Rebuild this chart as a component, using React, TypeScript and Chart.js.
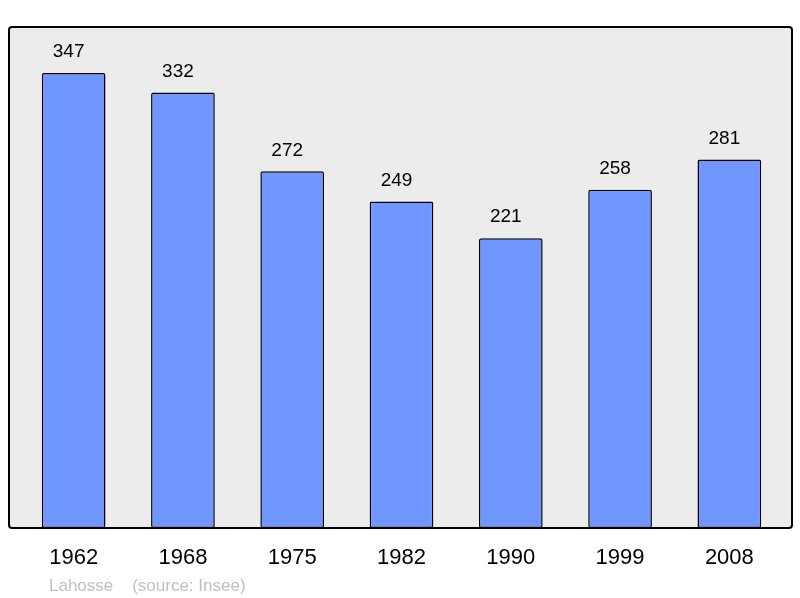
import React, { useEffect, useRef } from "react";
import { Chart, registerables } from "chart.js";

Chart.register(...registerables);

const years = ["1962", "1968", "1975", "1982", "1990", "1999", "2008"];
const population = [347, 332, 272, 249, 221, 258, 281];
const yMax = 382;
const footer = "Lahosse    (source: Insee)";

const framePlugin = {
  id: "frame",
  beforeDatasetsDraw(chart: any) {
    const { ctx, chartArea } = chart;
    const l = chartArea.left - 10, r = chartArea.right + 8;
    const t = chartArea.top, b = chartArea.bottom;
    ctx.save();
    ctx.beginPath();
    ctx.roundRect(l, t, r - l, b - t, 3);
    ctx.fillStyle = "#ececec";
    ctx.fill();
    ctx.restore();
  },
  afterDatasetsDraw(chart: any) {
    const { ctx, chartArea } = chart;
    const l = chartArea.left - 10, r = chartArea.right + 8;
    const t = chartArea.top, b = chartArea.bottom;
    ctx.save();
    ctx.beginPath();
    ctx.roundRect(l, t, r - l, b - t, 3);
    ctx.lineWidth = 2;
    ctx.strokeStyle = "#000";
    ctx.stroke();
    // value labels
    const meta = chart.getDatasetMeta(0);
    ctx.fillStyle = "#000";
    ctx.font = "19px 'Liberation Sans', Arial, sans-serif";
    ctx.textAlign = "center";
    ctx.textBaseline = "middle";
    meta.data.forEach((bar: any, i: number) => {
      ctx.fillText(String(population[i]), bar.x - 5, bar.y - 21);
    });
    // footer
    ctx.fillStyle = "#c0c0c0";
    ctx.font = "17px 'Liberation Sans', Arial, sans-serif";
    ctx.textAlign = "left";
    ctx.textBaseline = "middle";
    ctx.fillText(footer, chartArea.left + 30, chart.height - 12);
    ctx.restore();
  },
};

export default function App() {
  const ref = useRef<HTMLCanvasElement>(null);
  useEffect(() => {
    document.body.style.margin = "0";
    const chart = new Chart(ref.current!, {
      type: "bar",
      data: {
        labels: years,
        datasets: [
          {
            data: population,
            backgroundColor: "rgb(112,150,255)",
            borderColor: "#000",
            borderWidth: 1.5,
            borderRadius: 2,
            borderSkipped: false,
            categoryPercentage: 1,
            barPercentage: 0.583,
          },
        ],
      },
      options: {
        animation: false,
        responsive: false,
        layout: { padding: { left: 19, right: 16, top: 27, bottom: 29 } },
        plugins: { legend: { display: false }, tooltip: { enabled: false } },
        scales: {
          x: {
            grid: { display: false },
            border: { display: false },
            afterFit: (scale: any) => {
              scale.height = 41;
            },
            ticks: {
              color: "#000",
              padding: 9,
              font: { size: 22, family: "'Liberation Sans', Arial, sans-serif" },
            },
          },
          y: { display: false, min: 0, max: yMax },
        },
      },
      plugins: [framePlugin],
    });
    return () => chart.destroy();
  }, []);
  return (
    <div style={{ width: 800, height: 598 }}>
      <canvas ref={ref} width={800} height={598} style={{ display: "block" }} />
    </div>
  );
}
